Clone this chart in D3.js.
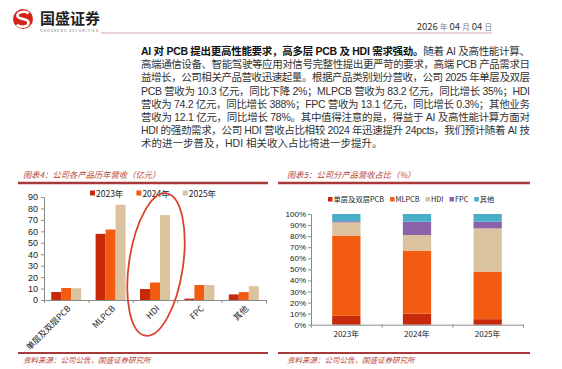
<!DOCTYPE html>
<html>
<head>
<meta charset="utf-8">
<script src="https://cdn.jsdelivr.net/npm/d3@7"></script>
<style>
  body { margin: 0; background: #fff; }
  svg { display: block; font-family: "Noto Sans CJK SC", "Noto Sans", sans-serif; }
  .para { font-family: "Liberation Sans", "Noto Sans CJK SC", sans-serif; }
</style>
</head>
<body>
<svg width="562" height="369"></svg>
<script>
// data
let products = ["单层及双层PCB", "MLPCB", "HDI", "FPC", "其他"];
let years = ["2023年", "2024年", "2025年"];
let rev2023 = [7.0, 57.8, 9.6, 1.2, 4.9];
let rev2024 = [10.5, 61.6, 15.3, 13.1, 6.9];
let rev2025 = [10.3, 83.2, 74.2, 13.1, 12.1];
let revTicks = [0, 10, 20, 30, 40, 50, 60, 70, 80, 90];

// share of revenue (%), one array per product over 2023/2024/2025
let shareSingle = [8, 10, 5];
let shareMLPCB = [72.5, 57, 43];
let shareHDI = [12, 14, 39];
let shareFPC = [1, 12, 6];
let shareOther = [6.5, 7, 7];
let shareTicks = [0, 10, 20, 30, 40, 50, 60, 70, 80, 90, 100];

let paragraph = [
  "高端通信设备、智能驾驶等应用对信号完整性提出更严苛的要求，高端 PCB 产品需求日",
  "益增长，公司相关产品营收迅速起量。根据产品类别划分营收，公司 2025 年单层及双层",
  "PCB 营收为 10.3 亿元，同比下降 2%；MLPCB 营收为 83.2 亿元，同比增长 35%；HDI",
  "营收为 74.2 亿元，同比增长 388%；FPC 营收为 13.1 亿元，同比增长 0.3%；其他业务",
  "营收为 12.1 亿元，同比增长 78%。其中值得注意的是，得益于 AI 及高性能计算方面对",
  "HDI 的强劲需求，公司 HDI 营收占比相较 2024 年迅速提升 24pcts，我们预计随着 AI 技",
  "术的进一步普及，HDI 相关收入占比将进一步提升。"
];

let yearColors = ["#c9290b", "#f35c10", "#dcc3a0"];
let productColors = ["#c9290b", "#f35c10", "#dcc3a0", "#8a62a8", "#4aaec8"];
let titleRed = "#b8433b";
let ruleRed = "#a8393a";

let svg = d3.select("svg");
svg.append("rect").attr("width", 562).attr("height", 369).attr("fill", "#fff");

// ---- header
svg.append("circle").attr("cx", 23).attr("cy", 19).attr("r", 10).attr("fill", "#d3241c");
svg.append("path")
  .attr("d", "M28.5,13.5 C25.5,10.5 17,11.5 17.5,16.2 C18,20 28.5,18 28.5,22.5 C28.5,27.5 19.5,27.8 17,24.5")
  .attr("fill", "none").attr("stroke", "#fff").attr("stroke-width", 2.6);
svg.append("text").attr("x", 40).attr("y", 24)
  .attr("font-size", 15).attr("font-weight", "bold").attr("fill", "#222")
  .attr("textLength", 60).attr("lengthAdjust", "spacing")
  .text("国盛证券");
svg.append("text").attr("x", 40).attr("y", 32)
  .attr("font-size", 3.4).attr("fill", "#666")
  .attr("textLength", 58).attr("lengthAdjust", "spacing")
  .text("GUOSHENG SECURITIES");
svg.append("line").attr("x1", 101).attr("x2", 492).attr("y1", 33).attr("y2", 33)
  .attr("stroke", "#d9a7a7").attr("stroke-width", 1);
let date = svg.append("text").attr("x", 492).attr("y", 30).attr("text-anchor", "end")
  .attr("font-size", 9.5).attr("fill", "#333");
date.append("tspan").text("2026 ");
date.append("tspan").attr("font-size", 7.5).attr("fill", "#777").text("年");
date.append("tspan").text(" 04 ");
date.append("tspan").attr("font-size", 7.5).attr("fill", "#777").text("月");
date.append("tspan").text(" 04 ");
date.append("tspan").attr("font-size", 7.5).attr("fill", "#777").text("日");

// ---- paragraph
let lineY = 55, lineStep = 13.2;
let first = svg.append("text").attr("class", "para").attr("x", 141).attr("y", lineY)
  .attr("font-size", 10.5).attr("textLength", 389).attr("lengthAdjust", "spacing");
first.append("tspan").attr("font-weight", "bold").attr("fill", "#111")
  .text("AI 对 PCB 提出更高性能要求，高多层 PCB 及 HDI 需求强劲。");
first.append("tspan").attr("fill", "#333").text("随着 AI 及高性能计算、");
paragraph.forEach(function (s, i) {
  let t = svg.append("text").attr("class", "para").attr("x", 141).attr("y", lineY + (i + 1) * lineStep)
    .attr("font-size", 10.5).attr("fill", "#333").text(s);
  if (i < paragraph.length - 1) t.attr("textLength", 389).attr("lengthAdjust", "spacing");
});

// ---- titles, rules, sources
function frame(x0, x1, tx, title) {
  svg.append("text").attr("x", tx).attr("y", 178).attr("font-size", 8.3)
    .attr("font-style", "italic").attr("fill", titleRed).text(title);
  svg.append("line").attr("x1", x0).attr("x2", x1).attr("y1", 183).attr("y2", 183)
    .attr("stroke", ruleRed).attr("stroke-width", 2.4);
  svg.append("line").attr("x1", x0).attr("x2", x1).attr("y1", 353).attr("y2", 353)
    .attr("stroke", ruleRed).attr("stroke-width", 2);
  svg.append("text").attr("x", tx).attr("y", 363).attr("font-size", 7.5)
    .attr("font-style", "italic").attr("fill", titleRed).text("资料来源：公司公告，国盛证券研究所");
}
frame(18, 268, 23, "图表4：公司各产品历年营收（亿元）");
frame(278, 530, 287, "图表5：公司分产品营收占比（%）");

// ---- chart 4: grouped bars
let revSeries = [rev2023, rev2024, rev2025];
let x0 = d3.scaleBand().domain(products).range([44, 266]);
let x1 = d3.scaleBand().domain(years).range([0, x0.bandwidth()]).paddingOuter(0.72);
let y = d3.scaleLinear().domain([0, 90]).range([300, 197]);

let g4 = svg.append("g");
g4.selectAll("g.grp")
  .data(products)
  .enter()
  .append("g")
  .attr("transform", function (d) { return "translate(" + x0(d) + ",0)"; })
  .selectAll("rect")
  .data(function (d, i) {
    return years.map(function (yr, k) { return { year: yr, k: k, v: revSeries[k][i] }; });
  })
  .enter()
  .append("rect")
  .attr("x", function (d) { return x1(d.year); })
  .attr("width", x1.bandwidth())
  .attr("y", function (d) { return y(d.v); })
  .attr("height", function (d) { return y(0) - y(d.v); })
  .attr("fill", function (d) { return yearColors[d.k]; });

let yAxis4 = g4.append("g").attr("transform", "translate(44,0)")
  .call(d3.axisLeft(y).tickValues(revTicks).tickSize(3).tickSizeOuter(0).tickPadding(3));
let xb4 = d3.scaleLinear().domain([0, products.length]).range([44, 266]);
let xAxis4 = g4.append("g").attr("transform", "translate(0,300)")
  .call(d3.axisBottom(xb4).ticks(products.length).tickFormat("").tickSize(3).tickSizeOuter(0));
[yAxis4, xAxis4].forEach(function (a) {
  a.selectAll("path, line").attr("stroke", "#8a8a8a");
  a.selectAll("text").attr("font-size", 9).attr("fill", "#222")
    .attr("font-family", "Liberation Sans, Arial, sans-serif");
});

g4.selectAll("text.cat")
  .data(products)
  .enter()
  .append("text")
  .attr("transform", function (d) {
    return "translate(" + (x0(d) + x0.bandwidth() / 2 + 3) + ",307) rotate(-45)";
  })
  .attr("text-anchor", "end")
  .attr("dy", "0.35em")
  .attr("font-size", 8.5)
  .attr("fill", "#222")
  .text(function (d) { return d; });

// legend 4
let lx = 90;
years.forEach(function (yr, k) {
  svg.append("rect").attr("x", lx).attr("y", 190.5).attr("width", 5).attr("height", 5)
    .attr("fill", yearColors[k]);
  let t = svg.append("text").attr("x", lx + 6).attr("y", 196.5).attr("font-size", 8.5)
    .attr("fill", "#222").text(yr);
  lx += 6 + t.node().getComputedTextLength() + 13;
});

// highlight ring round HDI
svg.append("ellipse")
  .attr("cx", x0("HDI") + x0.bandwidth() / 2 + 1)
  .attr("cy", 264.5)
  .attr("rx", 27).attr("ry", 72)
  .attr("transform", "rotate(8.4," + (x0("HDI") + x0.bandwidth() / 2 + 1) + ",264.5)")
  .attr("fill", "none").attr("stroke", "#d9432f").attr("stroke-width", 1.8);

// ---- chart 5: stacked 100% bars
let shareSeries = [shareSingle, shareMLPCB, shareHDI, shareFPC, shareOther];
let table = years.map(function (yr, j) {
  let row = { year: yr };
  products.forEach(function (p, i) { row[p] = shareSeries[i][j]; });
  return row;
});
let stack = d3.stack().keys(products)(table);

let x5 = d3.scaleBand().domain(years).range([311, 523]).paddingInner(0.6).paddingOuter(0.3);
let y5 = d3.scaleLinear().domain([0, 100]).range([324.7, 214]);

let g5 = svg.append("g");
g5.selectAll("g.layer")
  .data(stack)
  .enter()
  .append("g")
  .attr("fill", function (d, i) { return productColors[i]; })
  .selectAll("rect")
  .data(function (d) { return d; })
  .enter()
  .append("rect")
  .attr("x", function (d) { return x5(d.data.year); })
  .attr("width", x5.bandwidth())
  .attr("y", function (d) { return y5(d[1]); })
  .attr("height", function (d) { return y5(d[0]) - y5(d[1]); });

let yAxis5 = g5.append("g").attr("transform", "translate(311,0)")
  .call(d3.axisLeft(y5).tickValues(shareTicks).tickFormat(function (d) { return d + "%"; })
    .tickSize(3).tickSizeOuter(0).tickPadding(2));
let xb5 = d3.scaleLinear().domain([0, years.length]).range([311, 523]);
let xAxis5 = g5.append("g").attr("transform", "translate(0,324.7)")
  .call(d3.axisBottom(xb5).ticks(years.length).tickFormat("").tickSize(3).tickSizeOuter(0));
[yAxis5, xAxis5].forEach(function (a) {
  a.selectAll("path, line").attr("stroke", "#8a8a8a");
  a.selectAll("text").attr("font-size", 8).attr("fill", "#222")
    .attr("font-family", "Liberation Sans, Arial, sans-serif");
});
g5.selectAll("text.yr")
  .data(years)
  .enter()
  .append("text")
  .attr("x", function (d) { return x5(d) + x5.bandwidth() / 2; })
  .attr("y", 337)
  .attr("text-anchor", "middle")
  .attr("font-size", 8)
  .attr("fill", "#222")
  .text(function (d) { return d; });

// legend 5
let lx5 = 328;
products.forEach(function (p, i) {
  svg.append("rect").attr("x", lx5).attr("y", 197).attr("width", 4.5).attr("height", 4.5)
    .attr("fill", productColors[i]);
  let t = svg.append("text").attr("x", lx5 + 5.5).attr("y", 202).attr("font-size", 7.3)
    .attr("fill", "#222").text(p);
  lx5 += 5.5 + t.node().getComputedTextLength() + 6;
});
</script>
</body>
</html>
